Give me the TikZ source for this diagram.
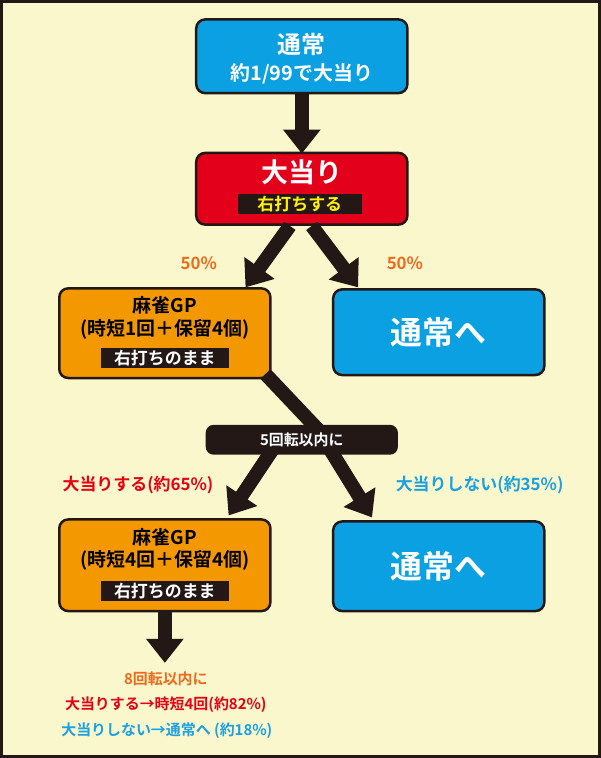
\documentclass[tikz,border=0pt]{standalone}
\usepackage{fontspec}
\setmainfont{Noto Sans CJK JP}[BoldFont={Noto Sans CJK JP Bold}]
\usetikzlibrary{arrows.meta}
\definecolor{cream}{HTML}{FBF7CD}
\definecolor{boxblue}{HTML}{0AA0E2}
\definecolor{boxred}{HTML}{E3001B}
\definecolor{boxorange}{HTML}{F39800}
\definecolor{txtorange}{HTML}{EE6A1C}
\definecolor{txtred}{HTML}{E50012}
\definecolor{txtblue}{HTML}{1BA0E0}
\definecolor{dark}{HTML}{231815}
\tikzset{
  box/.style={draw=dark,line width=2.5pt,rounded corners=9pt,minimum width=212pt,align=center,font=\bfseries},
  tag/.style={fill=dark,inner sep=2pt,font=\bfseries\fontsize{17}{17}\selectfont},
  flow/.style={draw=dark,line width=14pt,-{Triangle[width=36pt,length=24pt]}},
}
\begin{document}
\begin{tikzpicture}[x=1pt,y=-1pt]
\fill[cream,draw=dark,line width=3pt](0,0)rectangle(600,758);
\useasboundingbox(0,0)rectangle(600,758);
% start
\node[box,fill=boxblue,text=white,minimum height=74pt](normal)at(301.5,55){};
\node[text=white,font=\bfseries\fontsize{24}{24}\selectfont](normaltxt)at(301.5,43){通常};
\node[text=white,font=\bfseries\fontsize{20}{20}\selectfont](normalsub)at(301.5,73){約1/99で大当り};
\node[box,fill=boxred,minimum height=72pt](hit)at(301.5,188){};
\node[text=white,font=\bfseries\fontsize{27}{27}\selectfont](hittxt)at(301.5,171){大当り};
\node[tag,text=yellow,minimum width=125pt](hittag)at(299.5,203){右打ちする};
\draw[flow](normal.south)--([yshift=-2pt]hit.north);
% split 1
\node[box,fill=boxorange,minimum height=90pt](gp1)at(164,333){};
\node[font=\bfseries\fontsize{19}{23}\selectfont,align=center](gp1txt)at(164,318){麻雀GP\\(時短1回＋保留4個)};
\node[tag,text=white,minimum width=128pt](gp1tag)at(164,358){右打ちのまま};
\node[box,fill=boxblue,text=white,minimum height=86pt,font=\bfseries\fontsize{32}{32}\selectfont](back1)at(439,332){通常へ};
\draw[flow]([xshift=-12pt]hit.south)--(245,287);
\draw[flow]([xshift=10pt]hit.south)--(358,287);
\node[text=txtorange,font=\bfseries\fontsize{17}{17}\selectfont](p1)at(198,263){50\%};
\node[text=txtorange,font=\bfseries\fontsize{17}{17}\selectfont](p2)at(405,263){50\%};
% within 5 spins
\draw[dark,line width=14pt](265,374)--(318,430);
\draw[flow](272,450)--(228,516);
\draw[flow](330,450)--(372,518);
\node[fill=dark,text=white,rounded corners=8pt,minimum width=193pt,minimum height=30pt,font=\bfseries\fontsize{15}{15}\selectfont](spin5)at(301.5,440){5回転以内に};
\node[text=txtred,font=\bfseries\fontsize{17}{17}\selectfont](win)at(137,485){大当りする(約65\%)};
\node[text=txtblue,font=\bfseries\fontsize{17}{17}\selectfont](lose)at(480,485){大当りしない(約35\%)};
% split 2
\node[box,fill=boxorange,minimum height=92pt](gp2)at(164,566){};
\node[font=\bfseries\fontsize{19}{23}\selectfont,align=center](gp2txt)at(164,550){麻雀GP\\(時短4回＋保留4個)};
\node[tag,text=white,minimum width=128pt](gp2tag)at(164,592){右打ちのまま};
\node[box,fill=boxblue,text=white,minimum height=90pt,font=\bfseries\fontsize{32}{32}\selectfont](back2)at(439,567){通常へ};
\coordinate(end)at(164,664);
\draw[flow](gp2.south)--(end);
\node[text=txtorange,font=\bfseries\fontsize{15}{15}\selectfont](spin8)at(165,680){8回転以内に};
\node[text=txtred,font=\bfseries\fontsize{15}{15}\selectfont](win8)at(165,706){大当りする→時短4回(約82\%)};
\node[text=txtblue,font=\bfseries\fontsize{15}{15}\selectfont](lose8)at(166,732){大当りしない→通常へ (約18\%)};
\end{tikzpicture}
\end{document}
